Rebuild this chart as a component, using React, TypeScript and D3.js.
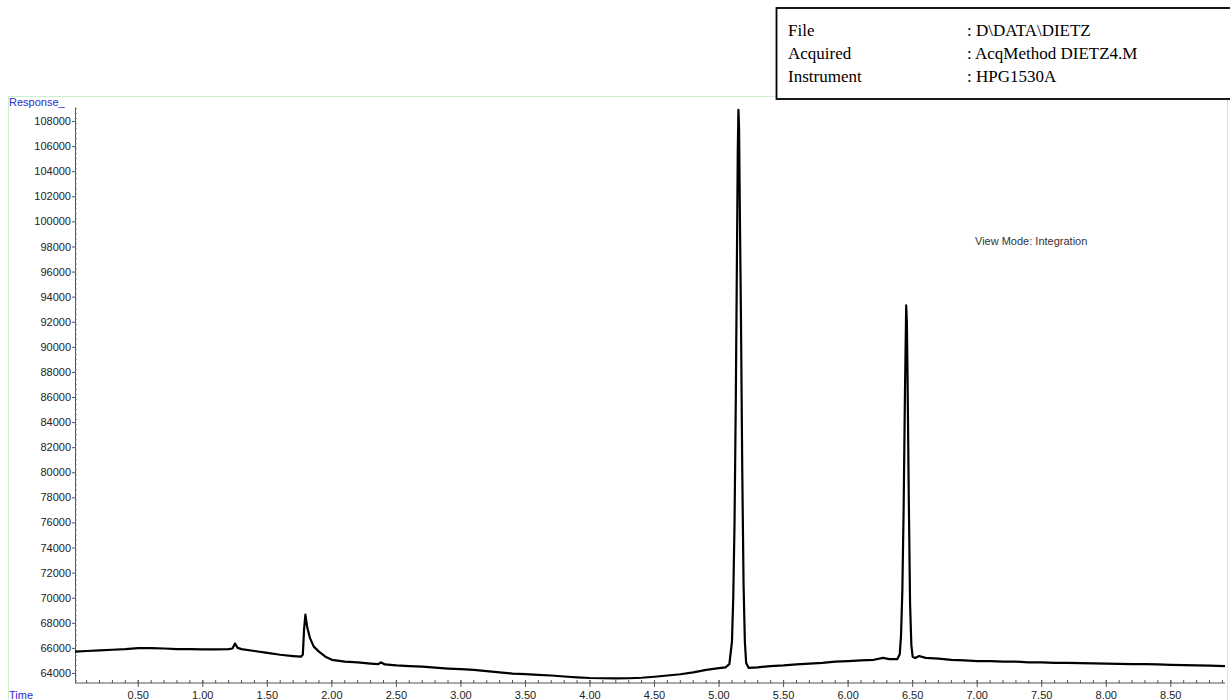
import * as d3 from "d3";
import { useEffect, useRef } from "react";

// retention time (min) and detector response
const times = [
  0.01, 0.1, 0.2, 0.3, 0.4, 0.5, 0.6, 0.7, 0.8, 0.9, 1.0, 1.1, 1.2, 1.23, 1.25, 1.27, 1.3, 1.4, 1.5, 1.6,
  1.7, 1.76, 1.775, 1.785, 1.795, 1.81, 1.83, 1.86, 1.9, 1.95, 2.0, 2.1, 2.2, 2.3, 2.36, 2.38, 2.41, 2.5,
  2.6, 2.7, 2.8, 2.9, 3.0, 3.1, 3.2, 3.3, 3.4, 3.5, 3.6, 3.7, 3.8, 3.9, 4.0, 4.1, 4.2, 4.3, 4.4, 4.5, 4.6,
  4.7, 4.8, 4.9, 5.0, 5.05, 5.08, 5.1, 5.11, 5.12, 5.13, 5.14, 5.145, 5.15, 5.155, 5.16, 5.17, 5.18, 5.19,
  5.2, 5.21, 5.23, 5.3, 5.4, 5.5, 5.6, 5.7, 5.8, 5.9, 6.0, 6.1, 6.2, 6.27, 6.32, 6.38, 6.4, 6.41, 6.42,
  6.43, 6.44, 6.45, 6.455, 6.46, 6.47, 6.48, 6.49, 6.5, 6.52, 6.55, 6.6, 6.7, 6.8, 6.9, 7.0, 7.1, 7.2, 7.3,
  7.4, 7.5, 7.6, 7.7, 7.8, 7.9, 8.0, 8.1, 8.2, 8.3, 8.4, 8.5, 8.6, 8.7, 8.8, 8.92,
];
const response = [
  65700, 65750, 65800, 65850, 65900, 65980, 65980, 65950, 65900, 65900, 65880, 65880, 65900, 65950, 66350,
  66000, 65900, 65750, 65600, 65450, 65350, 65300, 65450, 67500, 68650, 67600, 66800, 66100, 65700, 65300,
  65050, 64900, 64850, 64750, 64700, 64850, 64680, 64600, 64550, 64500, 64420, 64350, 64300, 64250, 64150,
  64050, 63950, 63900, 63850, 63800, 63720, 63650, 63600, 63580, 63570, 63580, 63620, 63700, 63800, 63900,
  64050, 64250, 64380, 64450, 64700, 66500, 70000, 76000, 86000, 99000, 105500, 108900, 107500, 102000,
  92000, 80000, 71000, 66500, 64800, 64400, 64450, 64550, 64600, 64680, 64750, 64800, 64900, 64950, 65000,
  65050, 65200, 65100, 65100, 65500, 67000, 70500, 77000, 86000, 93300, 92000, 88000, 78000, 69500, 66200,
  65300, 65200, 65350, 65200, 65150, 65050, 65000, 64950, 64950, 64900, 64900, 64850, 64850, 64800, 64800,
  64780, 64760, 64750, 64720, 64700, 64700, 64680, 64650, 64620, 64600, 64580, 64550,
];

const yTicks = d3.range(64000, 108001, 2000);
const xTicks = [0.5, 1.0, 1.5, 2.0, 2.5, 3.0, 3.5, 4.0, 4.5, 5.0, 5.5, 6.0, 6.5, 7.0, 7.5, 8.0, 8.5];

const infoLabels = ["File", "Acquired", "Instrument"];
const infoValues = [": D\\DATA\\DIETZ", ": AcqMethod DIETZ4.M", ": HPG1530A"];

export default function App() {
  const ref = useRef<SVGSVGElement | null>(null);

  useEffect(() => {
    const el = ref.current;
    if (!el) return;
    const svg = d3.select(el);
    svg.selectAll("*").remove();

    const W = 1230;
    const H = 700;
    const left = 75;
    const right = 1225;
    const top = 107;
    const bottom = 683;

    const x = d3.scaleLinear().domain([0.01, 8.92]).range([left, right]);
    const y = d3.scaleLinear().domain([63200, 109120]).range([bottom, top]);

    const sans = "Arial, 'Liberation Sans', sans-serif";
    const blue = "#2b2bd0";

    svg.attr("width", W).attr("height", H).attr("viewBox", `0 0 ${W} ${H}`);

    // faint green frame of the plot window
    svg
      .append("rect")
      .attr("x", 8.5)
      .attr("y", 96.5)
      .attr("width", 1219)
      .attr("height", 640)
      .attr("fill", "none")
      .attr("stroke", "#cdeecd")
      .attr("stroke-width", 1);

    svg
      .append("text")
      .attr("x", 9)
      .attr("y", 106)
      .attr("fill", blue)
      .attr("font-family", sans)
      .attr("font-size", 11)
      .text("Response_");

    svg
      .append("text")
      .attr("x", 9)
      .attr("y", 699)
      .attr("fill", blue)
      .attr("font-family", sans)
      .attr("font-size", 11)
      .text("Time");

    // y axis
    const gy = svg.append("g").attr("transform", `translate(${left},0)`);
    gy.call(
      d3
        .axisLeft(y)
        .tickValues(yTicks)
        .tickSize(3)
        .tickSizeOuter(0)
        .tickPadding(1)
        .tickFormat(d3.format("d") as (v: d3.NumberValue) => string),
    )
      .call((g) => g.select(".domain").attr("stroke", "#555"))
      .call((g) => g.selectAll(".tick line").attr("stroke", "#555"))
      .call((g) =>
        g.selectAll(".tick text").attr("fill", "#222").attr("font-family", sans).attr("font-size", 11),
      );
    gy.append("g")
      .selectAll("line")
      .data(d3.range(63400, 109001, 400))
      .join("line")
      .attr("x1", 0)
      .attr("x2", 2)
      .attr("y1", (d) => y(d))
      .attr("y2", (d) => y(d))
      .attr("stroke", "#777")
      .attr("stroke-width", 0.8);

    // x axis
    const gx = svg.append("g").attr("transform", `translate(0,${bottom})`);
    gx.append("line")
      .attr("x1", left)
      .attr("x2", right)
      .attr("stroke", "#555");
    gx.append("g")
      .selectAll("line")
      .data(d3.range(0.1, 8.91, 0.1))
      .join("line")
      .attr("x1", (d) => x(d))
      .attr("x2", (d) => x(d))
      .attr("y1", 0)
      .attr("y2", -3)
      .attr("stroke", "#555");
    gx.append("g")
      .selectAll("line")
      .data(xTicks)
      .join("line")
      .attr("x1", (d) => x(d))
      .attr("x2", (d) => x(d))
      .attr("y1", -3)
      .attr("y2", 4)
      .attr("stroke", "#555");
    gx.append("g")
      .selectAll("text")
      .data(xTicks)
      .join("text")
      .attr("x", (d) => x(d))
      .attr("y", 16)
      .attr("text-anchor", "middle")
      .attr("fill", "#222")
      .attr("font-family", sans)
      .attr("font-size", 11)
      .text((d) => d3.format(".2f")(d));

    // chromatogram trace
    const pts = times.map((t, i) => [t, response[i]] as [number, number]);
    const line = d3
      .line<[number, number]>()
      .x((d) => x(d[0]))
      .y((d) => y(d[1]));
    svg
      .append("path")
      .datum(pts)
      .attr("fill", "none")
      .attr("stroke", "#000")
      .attr("stroke-width", 2.2)
      .attr("stroke-linejoin", "round")
      .attr("d", line);

    svg
      .append("text")
      .attr("x", 975)
      .attr("y", 245)
      .attr("fill", "#333")
      .attr("font-family", sans)
      .attr("font-size", 11)
      .text("View Mode: Integration");

    // header box
    svg
      .append("rect")
      .attr("x", 776.5)
      .attr("y", 8)
      .attr("width", 470)
      .attr("height", 91)
      .attr("fill", "#fff")
      .attr("stroke", "#000")
      .attr("stroke-width", 1.8);
    const serif = "'Liberation Serif', 'Times New Roman', serif";
    infoLabels.forEach((lab, i) => {
      svg
        .append("text")
        .attr("x", 788)
        .attr("y", 36 + i * 23)
        .attr("font-family", serif)
        .attr("font-size", 17)
        .attr("fill", "#000")
        .text(lab);
      svg
        .append("text")
        .attr("x", 967)
        .attr("y", 36 + i * 23)
        .attr("font-family", serif)
        .attr("font-size", 17)
        .attr("fill", "#000")
        .text(infoValues[i]);
    });
  }, []);

  return (
    <div style={{ position: "absolute", left: 0, top: 0 }}>
      <svg ref={ref} style={{ display: "block" }} />
    </div>
  );
}
